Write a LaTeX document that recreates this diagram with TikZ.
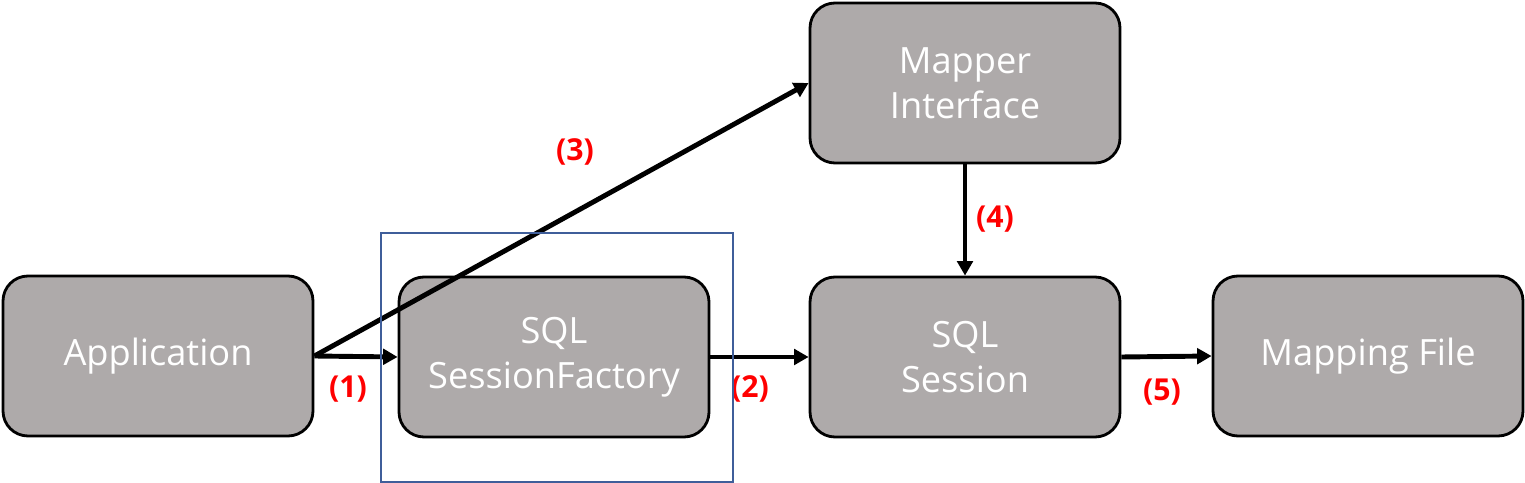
\documentclass[tikz,border=0pt]{standalone}
\usepackage{fontspec}
\setmainfont{Open Sans}
\usepackage{tikz}
\usetikzlibrary{arrows.meta,positioning}
\definecolor{boxgray}{HTML}{AEAAAA}
\definecolor{framblue}{HTML}{3F5E9A}

\begin{document}
\begin{tikzpicture}[x=1cm,y=1cm,
box/.style={draw=black,line width=0.8pt,fill=boxgray,rounded corners=0.25cm,minimum width=3.1cm,minimum height=1.6cm,align=center,text=white,font=\fontsize{10.3}{12.8}\selectfont},
arr/.style={line width=1.4pt,-{Triangle[length=1.45mm,width=1.55mm]}},
lbl/.style={text=red,font=\fontsize{8.6}{10}\selectfont\bfseries}]
\useasboundingbox (0,0) rectangle (15.25,-4.83);
\node[box] (app) at (1.58,-3.56) {Application};
\node[box] (factory) at (5.54,-3.57) {SQL\\SessionFactory};
\node[box] (session) at (9.65,-3.57) {SQL\\Session};
\node[box] (mapping) at (13.68,-3.56) {Mapping File};
\node[box] (mapper) at (9.65,-0.83) {Mapper\\Interface};
\draw[arr] (app.east) -- (factory.west);
\draw[arr] (app.east) -- (mapper.west);
\draw[arr] (factory.east) -- (session.west);
\draw[arr] (mapper.south) -- (session.north);
\draw[arr] (session.east) -- (mapping.west);
\node[lbl] (l1) at (3.48,-3.89) {(1)};
\node[lbl] (l2) at (7.50,-3.89) {(2)};
\node[lbl] (l3) at (5.75,-1.52) {(3)};
\node[lbl] (l4) at (9.95,-2.19) {(4)};
\node[lbl] (l5) at (11.62,-3.92) {(5)};
\node[draw=framblue,line width=0.6pt,minimum width=3.52cm,minimum height=2.49cm] (frame) at (5.57,-3.575) {};
\end{tikzpicture}
\end{document}
